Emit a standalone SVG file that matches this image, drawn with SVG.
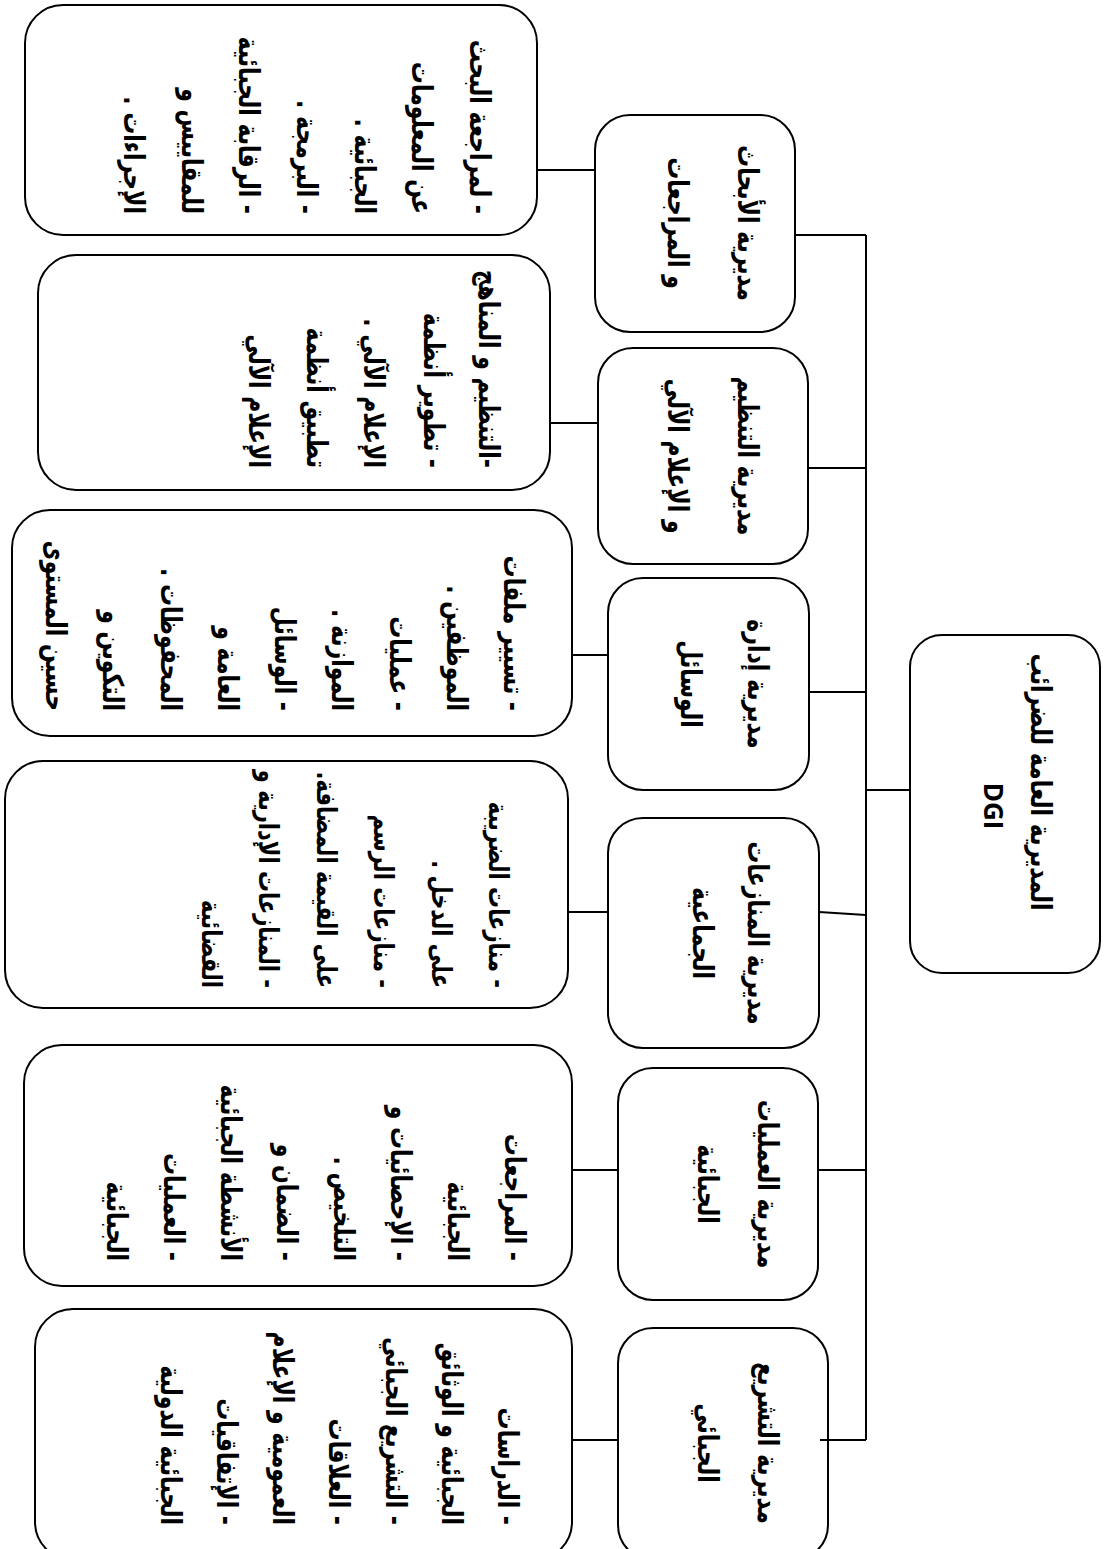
<svg xmlns="http://www.w3.org/2000/svg" width="1109" height="1549" viewBox="0 0 1109 1549">
<style>
.box{fill:#fff;stroke:#000;stroke-width:2}
.ln{stroke:#000;stroke-width:2;fill:none}
.ar{font-family:"DejaVu Sans",sans-serif;font-size:22px;font-weight:bold;direction:rtl;fill:#000}
.sm{font-size:21px}
.t{text-anchor:middle}
.d{text-anchor:start}
.lat{font-family:"Open Sans","Liberation Sans",sans-serif;font-size:26px;font-weight:bold;text-anchor:middle;fill:#000}
</style>
<rect width="1109" height="1549" fill="#fff"/>
<g id="dgi">
<rect class="box" x="910" y="635" width="190" height="338" rx="32"/>
<text class="ar t" transform="translate(1031,782) rotate(90) scale(1,1.3)">المديرية العامة للضرائب</text>
<text class="lat" transform="translate(984,806) rotate(90)">DGI</text>
</g>
<g id="n-research">
<rect class="box" x="595" y="115" width="200" height="217" rx="35"/>
<text class="ar t" transform="translate(738,223) rotate(90) scale(1,1.3)"><tspan x="0" y="0">مديرية الأبحاث</tspan><tspan x="0" y="53.85">و المراجعات</tspan></text>
</g>
<g id="d-research">
<rect class="box" x="25" y="5" width="512" height="230" rx="38"/>
<text class="ar d" transform="translate(470,214) rotate(90) scale(1,1.3)"><tspan x="0" y="0">- لمراجعة البحث</tspan><tspan x="0" y="44.38">عن المعلومات</tspan><tspan x="0" y="88.77">الجبائية .</tspan><tspan x="0" y="133.15">- البرمجة .</tspan><tspan x="0" y="177.54">- الرقابة الجبائية</tspan><tspan x="0" y="221.92">للمقاييس و</tspan><tspan x="0" y="266.31">الإجراءات .</tspan></text>
</g>
<g id="n-org">
<rect class="box" x="598" y="348" width="210" height="216" rx="35"/>
<text class="ar t" transform="translate(738,456) rotate(90) scale(1,1.3)"><tspan x="0" y="0">مديرية التنظيم</tspan><tspan x="0" y="53.85">و الإعلام الآلي</tspan></text>
</g>
<g id="d-org">
<rect class="box" x="38" y="255" width="512" height="235" rx="38"/>
<text class="ar d" transform="translate(479,468) rotate(90) scale(1,1.3)"><tspan x="0" y="0">-التنظيم و المناهج</tspan><tspan x="0" y="42.31">- تطوير أنظمة</tspan><tspan x="0" y="88.46">الإعلام الآلي .</tspan><tspan x="0" y="132.08">تطبيق أنظمة</tspan><tspan x="0" y="176.92">الإعلام الآلي</tspan></text>
</g>
<g id="n-means">
<rect class="box" x="608" y="578" width="201" height="212" rx="35"/>
<text class="ar t" transform="translate(748,684) rotate(90) scale(1,1.3)"><tspan x="0" y="0">مديرية إدارة</tspan><tspan x="0" y="51.54">الوسائل</tspan></text>
</g>
<g id="d-means">
<rect class="box" x="12" y="510" width="560" height="226" rx="38"/>
<text class="ar d" transform="translate(504,711) rotate(90) scale(1,1.3)"><tspan x="0" y="0">- تسيير ملفات</tspan><tspan x="0" y="44.04">الموظفين .</tspan><tspan x="0" y="88.08">- عمليات</tspan><tspan x="0" y="132.12">الموازنة .</tspan><tspan x="0" y="176.15">- الوسائل</tspan><tspan x="0" y="220.19">العامة و</tspan><tspan x="0" y="264.23">المحفوظات .</tspan><tspan x="0" y="308.27">التكوين و</tspan><tspan x="0" y="352.31">حسين المستوى</tspan></text>
</g>
<g id="n-disputes">
<rect class="box" x="608" y="818" width="211" height="230" rx="35"/>
<text class="ar t" transform="translate(748,933) rotate(90) scale(1,1.3)"><tspan x="0" y="0">مديرية المنازعات</tspan><tspan x="0" y="42.31">الجماعية</tspan></text>
</g>
<g id="d-disputes">
<rect class="box" x="5" y="761" width="563" height="247" rx="38"/>
<text class="ar d sm" transform="translate(489,988) rotate(90) scale(1,1.3)"><tspan x="0" y="0">- منازعات الضريبة</tspan><tspan x="0" y="44.15">على الدخل .</tspan><tspan x="0" y="88.31">- منازعات الرسم</tspan><tspan x="0" y="132.46">على القيمة المضافة.</tspan><tspan x="0" y="176.62">- المنازعات الإدارية و</tspan><tspan x="0" y="220.77">القضائية</tspan></text>
</g>
<g id="n-operations">
<rect class="box" x="618" y="1068" width="200" height="232" rx="35"/>
<text class="ar t" transform="translate(758,1184) rotate(90) scale(1,1.3)"><tspan x="0" y="0">مديرية العمليات</tspan><tspan x="0" y="46.15">الجبائية</tspan></text>
</g>
<g id="d-operations">
<rect class="box" x="24" y="1045" width="548" height="241" rx="38"/>
<text class="ar d" transform="translate(505,1261) rotate(90) scale(1,1.3)"><tspan x="0" y="0">- المراجعات</tspan><tspan x="0" y="43.77">الجبائية</tspan><tspan x="0" y="87.54">- الإحصائيات و</tspan><tspan x="0" y="131.31">التلخيص .</tspan><tspan x="0" y="175.08">- الضمان و</tspan><tspan x="0" y="218.85">الأنشطة الجبائية</tspan><tspan x="0" y="262.62">- العمليات</tspan><tspan x="0" y="306.38">الجبائية</tspan></text>
</g>
<g id="n-legislation">
<rect class="box" x="618" y="1328" width="210" height="232" rx="35"/>
<text class="ar t" transform="translate(758,1443) rotate(90) scale(1,1.3)"><tspan x="0" y="0">مديرية التشريع</tspan><tspan x="0" y="46.15">الجبائي</tspan></text>
</g>
<g id="d-legislation">
<rect class="box" x="35" y="1309" width="537" height="251" rx="38"/>
<text class="ar d" transform="translate(498,1525) rotate(90) scale(1,1.3)"><tspan x="0" y="0">- الدراسات</tspan><tspan x="0" y="43.23">الجبائية و الوثائق</tspan><tspan x="0" y="86.46">- التشريع الجبائي</tspan><tspan x="0" y="129.69">- العلاقات</tspan><tspan x="0" y="172.92">العمومية و الإعلام</tspan><tspan x="0" y="216.15">- الإتفاقيات</tspan><tspan x="0" y="259.38">الجبائية الدولية</tspan></text>
</g>
<g id="connectors">
<path class="ln" d="M866 235V1440"/>
<path class="ln" d="M866 790H910"/>
<path class="ln" d="M795 235H866"/>
<path class="ln" d="M808 468H866"/>
<path class="ln" d="M809 692H866"/>
<path class="ln" d="M819 912L866 915"/>
<path class="ln" d="M818 1170H866"/>
<path class="ln" d="M820 1440H866"/>
<path class="ln" d="M537 170H595"/>
<path class="ln" d="M550 423H598"/>
<path class="ln" d="M572 655H608"/>
<path class="ln" d="M568 912H608"/>
<path class="ln" d="M572 1170H618"/>
<path class="ln" d="M572 1440H618"/>
</g>
</svg>
